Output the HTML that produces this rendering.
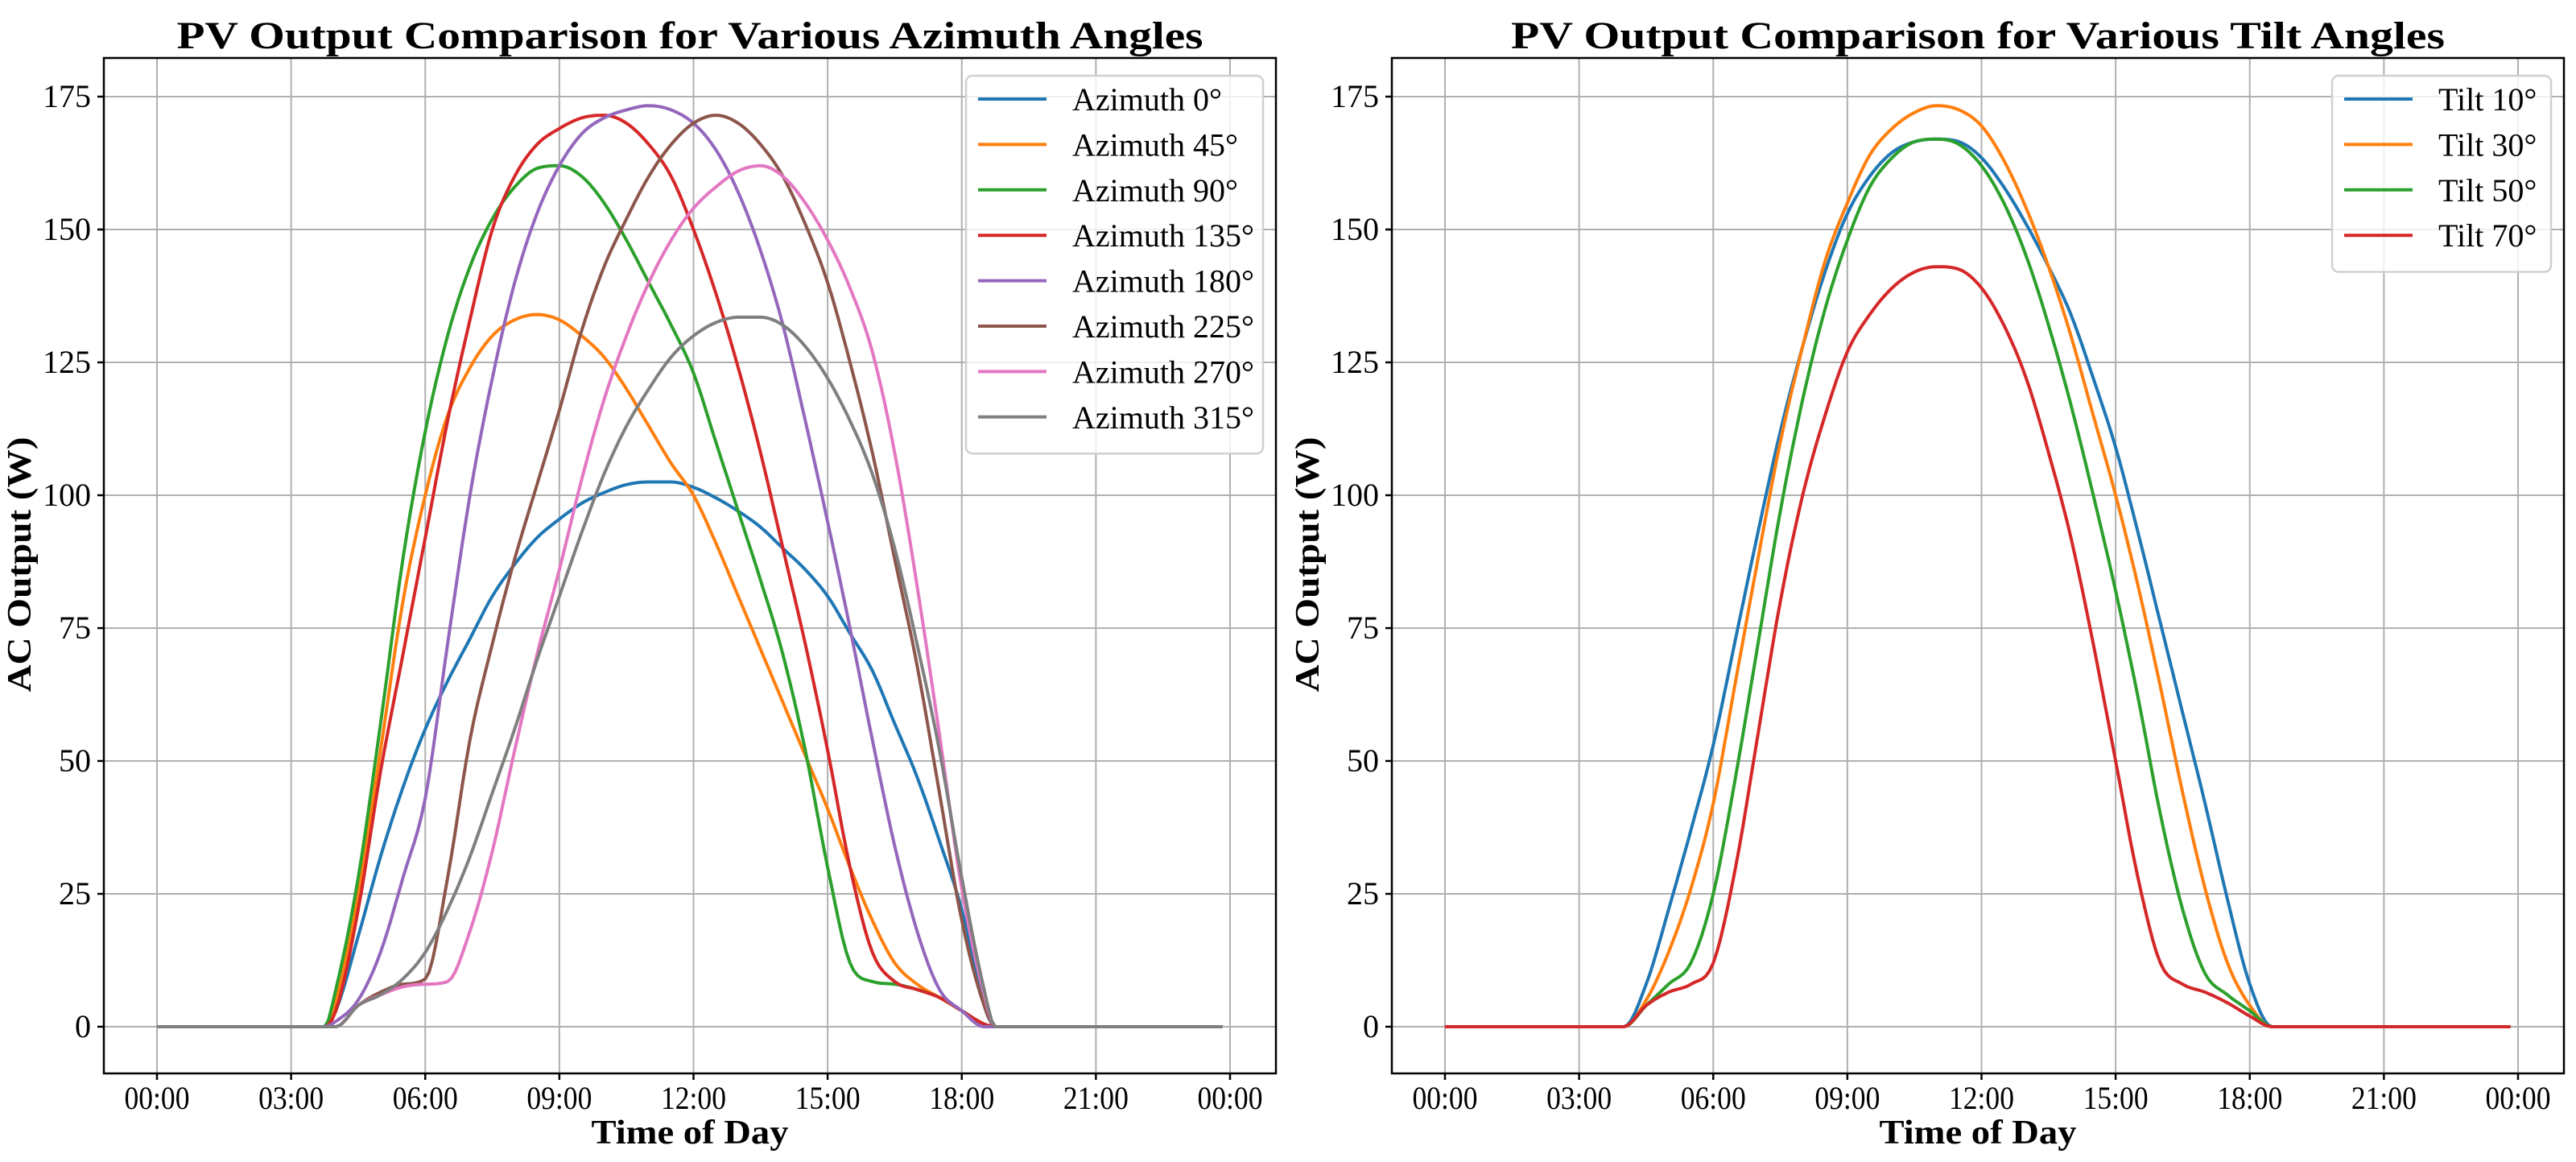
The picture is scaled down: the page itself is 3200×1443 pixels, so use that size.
<!DOCTYPE html>
<html><head><meta charset="utf-8">
<style>
html,body{margin:0;padding:0;background:#fff;}
svg{display:block;}
text{font-family:"Liberation Serif",serif;fill:#000;}
</style></head>
<body>
<svg id="fig" width="3200" height="1443" viewBox="0 0 3200 1443" xmlns="http://www.w3.org/2000/svg"></svg>
<script>
// ---- data ----
const times = [0,3.75,4,4.5,5,5.5,6,6.5,7,7.5,8,8.5,9,9.5,10,10.5,11,11.5,12,12.5,13,13.5,14,14.5,15,15.5,16,16.5,17,17.5,18,18.5,18.75,23.83];
const azLabels = ["Azimuth 0°","Azimuth 45°","Azimuth 90°","Azimuth 135°","Azimuth 180°","Azimuth 225°","Azimuth 270°","Azimuth 315°"];
const az0   = [0,0,3,17,32,45,56,65,73,81,87,92,95.5,98.5,100.5,102,102.5,102.5,101.5,99.5,97,94,90,86,81,74,67,57,47,35,22,4,0,0];
const az45  = [0,0,5,25,52,80,100,115,124,130,133,134,133,130,126,120,113,106,100,91,81,71,61,51,41,30,20,12,8,5.5,3,0.5,0,0];
const az90  = [0,0,7,28,57,88,112,130,143,152,158,161.5,162,160,155,148,140,132,123,110,97,84,70,52,30,12,8.5,8,7,5.5,3,0.5,0,0];
const az135 = [0,0,3,22,48,70,92,114,133,150,160,166,169,171,171.5,170,166,160,150,138,124,108,90,72,52,30,14,8.5,7,5.5,3,0.5,0,0];
const az180 = [0,0,1,5,14,28,43,72,100,122,140,153,162,168,171,172.5,173.3,172.5,170,165,157,146,132,114,95,75,54,34,18,7,3,0,0,0];
const az225 = [0,0,0,4,6.5,8,9,28,54,72,88,102,116,131,143,152,160,166,170,171.5,170,166,160,151,140,125,108,88,68,44,20,4,0,0];
const az270 = [0,0,0,4,6,7.5,8,8.5,18,33,52,70,86,103,118,130,140,148,154,158,161,162,160,155,148,139,127,108,83,55,26,6,0,0];
const az315 = [0,0,0,4,6,9,14,22,32,44,56,69,81,93,104,113,120,126,130,132.5,133.5,133.5,132,128,122,114,104,90,72,52,28,7,0,0];
const tiltLabels = ["Tilt 10°","Tilt 30°","Tilt 50°","Tilt 70°"];
const tilt10 = [0,0,0,8,22,37,53,73,93,112,128,142,153,160,164.5,166.5,167,166.5,163.5,158,151,143,134,122,109,93,76,59,42,24,8,0,0,0];
const tilt30 = [0,0,0,5,14,26,42,65,88,110,128,144,155,164,169,172,173.3,172.5,169.5,163,154,143,130,115,100,83,64,44,26,12,4,0,0,0];
const tilt50 = [0,0,0,4,8,12,25,47,72,97,118,135,148,158,163.5,166.5,167,166,162,155,145,132,117,100,82,62,40,22,10,6,3,0,0,0];
const tilt70 = [0,0,0,4,6.5,8,12,30,55,80,100,115,127,134,139,142,143,142.5,139,132,122,108,92,72,50,28,12,8,6.5,4.5,2,0,0,0];
const yTicks = [0,25,50,75,100,125,150,175];
const xTickHours = [0,3,6,9,12,15,18,21,24];
const xTickLabels = ["00:00","03:00","06:00","09:00","12:00","15:00","18:00","21:00","00:00"];
const colors = ["#1f77b4","#ff7f0e","#2ca02c","#d62728","#9467bd","#8c564b","#e377c2","#7f7f7f"];

const NS="http://www.w3.org/2000/svg";
const svg=document.getElementById('fig');
function el(tag,attrs,parent){const e=document.createElementNS(NS,tag);for(const k in attrs)e.setAttribute(k,attrs[k]);(parent||svg).appendChild(e);return e;}

function monotone(xs,ys){
  const n=xs.length,d=[],m=new Array(n);
  for(let i=0;i<n-1;i++)d.push((ys[i+1]-ys[i])/(xs[i+1]-xs[i]));
  m[0]=d[0];m[n-1]=d[n-2];
  for(let i=1;i<n-1;i++){m[i]=(d[i-1]*d[i]<=0)?0:(d[i-1]+d[i])/2;}
  for(let i=0;i<n-1;i++){
    if(d[i]===0){m[i]=0;m[i+1]=0;continue;}
    const a=m[i]/d[i],b=m[i+1]/d[i],s=a*a+b*b;
    if(s>9){const t=3/Math.sqrt(s);m[i]=t*a*d[i];m[i+1]=t*b*d[i];}
  }
  const pts=[];
  for(let i=0;i<n-1;i++){
    const h=xs[i+1]-xs[i],N=Math.max(2,Math.ceil(h*12));
    for(let k=0;k<N;k++){
      const t=k/N,t2=t*t,t3=t2*t;
      const y=(2*t3-3*t2+1)*ys[i]+(t3-2*t2+t)*h*m[i]+(-2*t3+3*t2)*ys[i+1]+(t3-t2)*h*m[i+1];
      pts.push([xs[i]+t*h,y]);
    }
  }
  pts.push([xs[n-1],ys[n-1]]);
  return pts;
}

function drawPanel(ox,title,titleLen,seriesList,labels,legend,pname){
  const L=ox+129,R=ox+1585,T=72,B=1333;
  const x0=ox+195,pxh=(1528-195)/24;
  const xs=h=>x0+h*pxh;
  const y0=1275,pxu=(1275-120)/175;
  const ys=v=>y0-v*pxu;
  const g=el('g',{});
  
  
  yTicks.forEach(v=>{
    const l=el('line',{x1:L,x2:R,y1:ys(v),y2:ys(v),stroke:'#b0b0b0','stroke-width':2},g);
    
  });
  xTickHours.forEach(h=>{
    const l=el('line',{x1:xs(h),x2:xs(h),y1:T,y2:B,stroke:'#b0b0b0','stroke-width':2},g);
    
  });
  seriesList.forEach((vals,i)=>{
    const pts=monotone(times,vals);
    const d=pts.map((p,k)=>(k?'L':'M')+xs(p[0]).toFixed(1)+' '+ys(p[1]).toFixed(1)).join('');
    const p=el('path',{d:d,fill:'none',stroke:colors[i],'stroke-width':4,'stroke-linejoin':'round'},g);
    
    
  });
  const sp=el('rect',{x:L,y:T,width:R-L,height:B-T,fill:'none',stroke:'#000','stroke-width':2.5},g);
  
  yTicks.forEach(v=>{
    el('line',{x1:L-8,x2:L,y1:ys(v),y2:ys(v),stroke:'#000','stroke-width':2.5},g);
    const t=el('text',{x:L-16,y:ys(v)+13,'text-anchor':'end','font-size':40},g);
    t.textContent=v;
    
  });
  xTickHours.forEach((h,i)=>{
    el('line',{x1:xs(h),x2:xs(h),y1:B,y2:B+8,stroke:'#000','stroke-width':2.5},g);
    const t=el('text',{x:xs(h),y:1377,'text-anchor':'middle','font-size':40,textLength:81,lengthAdjust:'spacingAndGlyphs'},g);
    t.textContent=xTickLabels[i];
    
  });
  const tt=el('text',{x:(L+R)/2,y:60,'text-anchor':'middle','font-size':48,'font-weight':'bold',textLength:titleLen,lengthAdjust:'spacingAndGlyphs'},g);
  tt.textContent=title;
  const xl=el('text',{x:(L+R)/2,y:1420,'text-anchor':'middle','font-size':42,'font-weight':'bold',textLength:245,lengthAdjust:'spacingAndGlyphs'},g);
  xl.textContent='Time of Day';
  const yl=el('text',{x:0,y:0,'text-anchor':'middle','font-size':42,'font-weight':'bold',textLength:317,lengthAdjust:'spacingAndGlyphs',transform:`translate(${ox+38},701) rotate(-90)`},g);
  yl.textContent='AC Output (W)';
  const lg=el('g',{},g);
  
  const n=labels.length;
  el('rect',{x:legend.x,y:94,width:R-16-legend.x,height:n*56.4+18,rx:8,fill:'#fff','fill-opacity':0.8,stroke:'#d0d0d0','stroke-width':2.5},lg);
  labels.forEach((lab,i)=>{
    const cy=123+i*56.4;
    el('line',{x1:legend.x+15,x2:legend.x+100,y1:cy,y2:cy,stroke:colors[i],'stroke-width':4},lg);
    const t=el('text',{x:legend.x+132,y:cy+14,'font-size':40},lg);
    t.textContent=lab;
    
  });
}
drawPanel(0,"PV Output Comparison for Various Azimuth Angles",1275,[az0,az45,az90,az135,az180,az225,az270,az315],azLabels,{x:1200},'azimuth');
drawPanel(1600,"PV Output Comparison for Various Tilt Angles",1160,[tilt10,tilt30,tilt50,tilt70],tiltLabels,{x:2897},'tilt');
</script>
</body></html>
